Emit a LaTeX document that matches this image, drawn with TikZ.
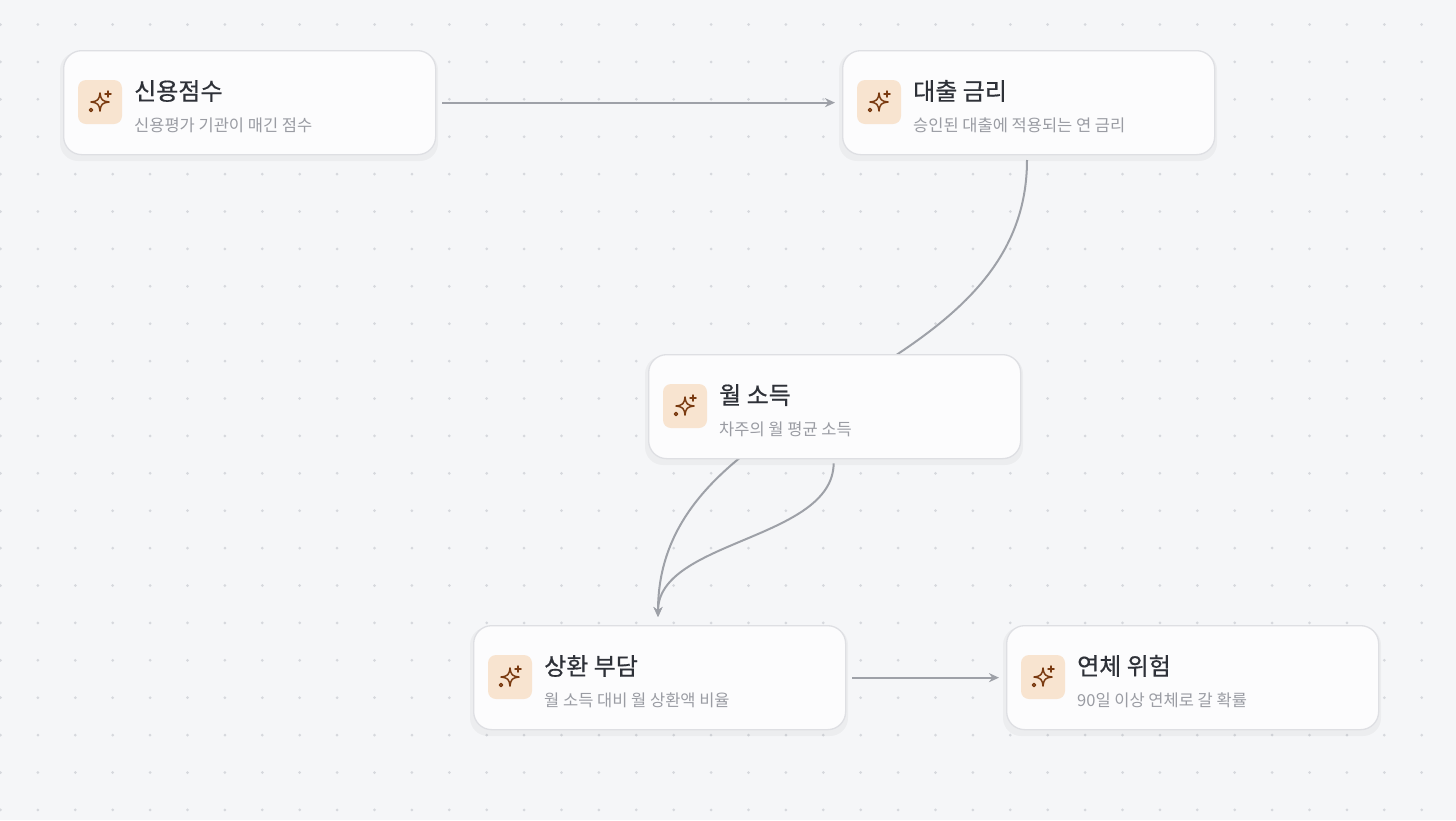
\documentclass[tikz,border=0pt]{standalone}
\usepackage{fontspec}
\setmainfont{Noto Sans CJK KR}
\usetikzlibrary{arrows.meta}
\definecolor{bg}{HTML}{F5F6F8}
\definecolor{dotc}{HTML}{D6D8DD}
\definecolor{edge}{HTML}{9EA1A8}
\definecolor{bord}{HTML}{DEDFE3}
\definecolor{ttl}{HTML}{2E3138}
\definecolor{sub}{HTML}{9A9CA3}
\definecolor{iconbg}{HTML}{F8E4D0}
\definecolor{iconfg}{HTML}{7A3A10}
\tikzset{
  x=1pt,y=-1pt,
  card/.style={draw=bord,line width=1.3pt,fill=white!70!bg,rounded corners=18pt,minimum width=372pt,minimum height=104pt,inner sep=0pt},
  ttlst/.style={anchor=base west,font=\fontsize{24}{28}\selectfont\addfontfeatures{FakeBold=0.6},text=ttl,inner sep=0pt},
  subst/.style={anchor=base west,font=\fontsize{16.5}{19}\selectfont,text=sub,inner sep=0pt},
  conn/.style={draw=edge,line width=2pt,-{Stealth[length=10pt,width=9pt]}},
}
\newcommand{\mycard}[5]{% name, x, y (top-left), title, subtitle
  \fill[black,opacity=0.035,rounded corners=18pt] (#2-3,#3+2) rectangle (#2+375,#3+111);
  \node[card,anchor=north west] (#1) at (#2,#3) {};
  \fill[iconbg,rounded corners=8pt] (#2+15,#3+30) rectangle (#2+59,#3+74);
  \begin{scope}[shift={(#2+37,#3+52)},draw=iconfg,line width=1.5pt,line join=round,line cap=round]
    \draw (0,-9) .. controls (1,-2) and (2,-1) .. (9,0) .. controls (2,1) and (1,2) .. (0,9)
      .. controls (-1,2) and (-2,1) .. (-9,0) .. controls (-2,-1) and (-1,-2) .. (0,-9) -- cycle;
    \draw (8,-11) -- (8,-5) (5,-8) -- (11,-8);
    \draw (-9,8) circle (1.6);
  \end{scope}
  \node[ttlst] at (#2+71,#3+50) {#4};
  \node[subst] at (#2+71,#3+81) {#5};
}
\begin{document}
\begin{tikzpicture}
\useasboundingbox (0,0) rectangle (1456,820);
\fill[bg] (0,0) rectangle (1456,820);
\foreach \i in {0,...,39}{\foreach \j in {0,...,22}{
  \fill[dotc] (0.5+37.4*\i,24.5+37.4*\j) circle (1.5);}}
\coordinate (bB) at (1027,160);
\coordinate (dT) at (658,617);
\draw[conn] (bB) .. controls (1027,390) and (658,390) .. (dT);
\mycard{A}{63}{50}{신용점수}{신용평가 기관이 매긴 점수}
\mycard{B}{842}{50}{대출 금리}{승인된 대출에 적용되는 연 금리}
\mycard{C}{648}{354}{월 소득}{차주의 월 평균 소득}
\mycard{D}{473}{625}{상환 부담}{월 소득 대비 월 상환액 비율}
\mycard{E}{1006}{625}{연체 위험}{90일 이상 연체로 갈 확률}
\draw[conn] ([xshift=6pt]A.east) -- ([xshift=-7pt]B.west);
\draw[conn] ([yshift=-4pt,xshift=-1pt]C.south) .. controls (833,540) and (658,540) .. (dT);
\draw[conn] ([xshift=6pt]D.east) -- ([xshift=-7pt]E.west);
\end{tikzpicture}
\end{document}
